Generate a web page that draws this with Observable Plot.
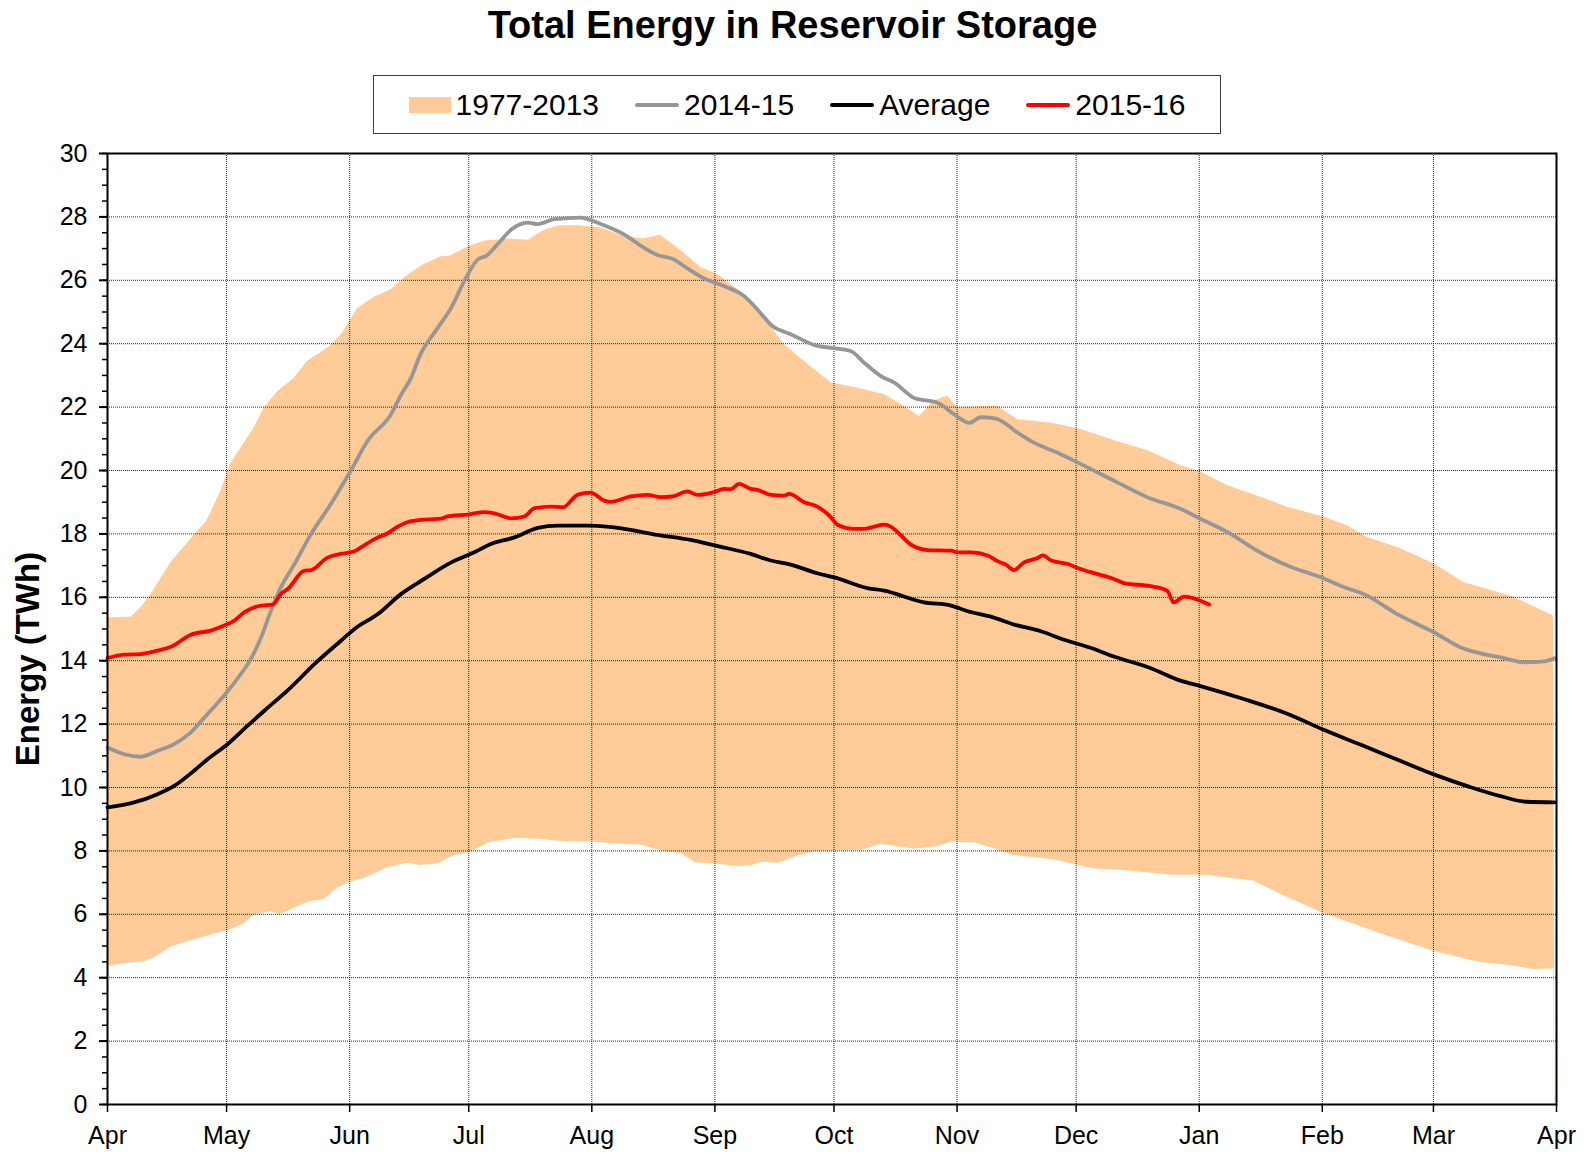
<!DOCTYPE html>
<html>
<head>
<meta charset="utf-8">
<script src="https://cdn.jsdelivr.net/npm/d3@7"></script>
<script src="https://cdn.jsdelivr.net/npm/@observablehq/plot@0.6"></script>
<style>
  body { margin: 0; background: #fff; font-family: "Liberation Sans", Arial, sans-serif; color: #000; }
  #header { position: relative; width: 1585px; height: 136px; }
  #title { position: absolute; top: 0; left: 0; width: 1585px; text-align: center; font-weight: bold; font-size: 38px; line-height: 50px; }
  #legend { position: absolute; left: 373px; top: 75px; width: 846px; height: 57px; border: 1px solid #404040;
            display: flex; align-items: center; justify-content: center; gap: 36px; font-size: 30px; }
  .item { display: flex; align-items: center; gap: 5px; }
  .rect { width: 42px; height: 16px; }
  .ln { width: 44px; height: 4px; border-radius: 2px; }
  #chart svg { display: block; }
</style>
</head>
<body>
<div id="header">
  <div id="title">Total Energy in Reservoir Storage</div>
  <div id="legend"></div>
</div>
<div id="chart"></div>
<script>
// Day offsets from 1 April; month labels
const monthStarts = [0, 30, 61, 91, 122, 153, 183, 214, 244, 275, 306, 334, 365];
const monthLabels = ["Apr", "May", "Jun", "Jul", "Aug", "Sep", "Oct", "Nov", "Dec", "Jan", "Feb", "Mar", "Apr"];
const yTicks = [0, 2, 4, 6, 8, 10, 12, 14, 16, 18, 20, 22, 24, 26, 28, 30];

// 1977-2013 range, upper edge [day, TWh]
const bandHigh = [[0,15.35],[6,15.38],[8.4,15.66],[11,16.1],[16,17.1],[22,17.98],[25,18.4],[28.6,19.35],[31,20.2],[33.6,20.7],[37,21.35],[39.5,21.98],[43,22.5],[47,22.9],[50.4,23.45],[56,23.9],[59,24.3],[63,25.1],[67,25.45],[71.4,25.7],[75,26.1],[79,26.45],[84,26.74],[86.5,26.77],[90.8,27.05],[95,27.24],[101,27.3],[106,27.26],[110,27.58],[114,27.72],[119,27.72],[124,27.66],[130,27.4],[135,27.3],[139.3,27.42],[145.2,26.87],[149.4,26.4],[153.6,26.19],[158.7,25.72],[163.7,25.14],[170.4,23.98],[175.5,23.45],[182.2,22.77],[188.9,22.6],[195.6,22.4],[200.7,22.03],[204.5,21.7],[208.3,22.19],[211.6,22.35],[214.1,21.98],[224.2,22.03],[229.3,21.6],[237.7,21.5],[245,21.3],[253.5,20.95],[261.9,20.63],[270.3,20.16],[275.4,19.95],[282.1,19.53],[290.5,19.16],[297.2,18.84],[306.4,18.53],[312.3,18.26],[317.4,17.89],[325.8,17.53],[334.2,17.05],[341.7,16.47],[354.3,16.0],[364.2,15.42],[364.6,0]];

// 1977-2013 range, lower edge [day, TWh]
const bandLow = [[0,4.35],[3.5,4.43],[9.3,4.5],[11.6,4.61],[16.2,4.98],[23.1,5.24],[27.8,5.4],[30.3,5.47],[34.7,5.72],[37,5.98],[41.1,6.08],[43.4,6.0],[46.3,6.14],[50.9,6.4],[54.4,6.45],[57.9,6.82],[61.1,7.0],[64.8,7.14],[70.6,7.47],[75.8,7.61],[78.7,7.54],[83.3,7.59],[86.8,7.82],[91.4,7.96],[96.1,8.26],[103,8.4],[108.8,8.37],[112.3,8.32],[115.7,8.29],[122.2,8.29],[127.3,8.22],[134.3,8.19],[138.9,8.01],[144.7,7.91],[148.1,7.63],[153.4,7.59],[158.6,7.51],[162.1,7.53],[165,7.64],[169,7.61],[173.6,7.82],[178.2,7.98],[183,8.0],[190.1,8.02],[194.9,8.21],[203.2,8.05],[209.1,8.13],[212.7,8.28],[218.6,8.25],[223.3,8.07],[228.1,7.86],[238.8,7.71],[244.3,7.55],[248.2,7.44],[256.5,7.37],[268.4,7.23],[276.7,7.23],[288.6,7.05],[296.9,6.55],[306.5,6.02],[313.5,5.71],[321.8,5.34],[334.6,4.81],[345.5,4.49],[352.6,4.39],[359.7,4.25],[364.3,4.28],[364.6,0]];

// 2014-15 [day, TWh]
const season1415 = [[0,11.26],[4.2,11.05],[8.4,10.97],[12.6,11.16],[16.8,11.37],[21,11.74],[25.2,12.32],[29.4,12.9],[33.6,13.58],[36.1,14.05],[38.7,14.74],[41.2,15.58],[43.7,16.32],[47.1,17.05],[51.3,18.0],[56.3,18.95],[61.3,20.0],[65.5,20.93],[71.4,21.77],[74,22.4],[76.5,22.93],[78.6,23.6],[83.2,24.5],[86.6,25.14],[89.9,25.98],[93.3,26.66],[95.4,26.77],[98.3,27.14],[101.7,27.6],[105.9,27.82],[108.4,27.77],[112.6,27.93],[119.3,27.98],[121.7,27.9],[124.4,27.77],[130.1,27.45],[135.1,27.03],[138.5,26.8],[142.7,26.66],[145.2,26.45],[150.3,26.06],[155.3,25.82],[160.4,25.5],[163.7,25.08],[167.5,24.56],[172.1,24.3],[178.8,23.93],[182.2,23.87],[187.2,23.77],[190.6,23.4],[194.8,22.98],[198.2,22.77],[203.2,22.29],[209.1,22.14],[213.3,21.77],[217.1,21.5],[220,21.68],[223.8,21.64],[229.3,21.19],[233.5,20.87],[239.3,20.56],[245.1,20.21],[253.5,19.68],[261.9,19.16],[270.3,18.79],[275.4,18.47],[282.9,18.0],[288.8,17.53],[297.2,17.0],[305.6,16.63],[311.5,16.32],[316.5,16.1],[324.9,15.47],[334.2,14.89],[340.9,14.42],[345.9,14.23],[351.8,14.08],[356.9,13.95],[361.9,13.98],[364.4,14.08]];

// Average [day, TWh]
const average = [[0,9.37],[6.7,9.53],[12.6,9.79],[16.8,10.05],[21.8,10.53],[25.2,10.89],[30.3,11.37],[35.3,11.95],[39.5,12.42],[46.2,13.16],[52.1,13.89],[58.8,14.63],[62.2,15.0],[68.1,15.47],[73.9,16.1],[79.8,16.58],[86.6,17.1],[92.4,17.42],[96.6,17.68],[102.5,17.89],[108.4,18.19],[113.4,18.26],[121.8,18.26],[130.1,18.16],[138.5,17.97],[146.9,17.81],[153.2,17.63],[162,17.37],[167.1,17.16],[172.1,17.03],[178.8,16.76],[183.1,16.63],[191.4,16.29],[195.6,16.21],[205.7,15.84],[212.5,15.74],[216.7,15.56],[222.5,15.39],[228.4,15.14],[235.1,14.93],[241,14.66],[247.8,14.4],[253.5,14.13],[262.5,13.78],[270.3,13.37],[275.3,13.2],[286,12.8],[298.1,12.28],[306.5,11.81],[315.9,11.34],[325.3,10.86],[334.6,10.39],[343.1,10.02],[351.4,9.71],[357.4,9.55],[364.5,9.53]];

// 2015-16 [day, TWh]
const season1516 = [[0,14.08],[4.2,14.19],[8.4,14.21],[12.6,14.32],[16,14.44],[21,14.82],[26,14.95],[29.4,15.11],[31.9,15.26],[34.5,15.53],[38.7,15.74],[41.6,15.77],[43.7,16.11],[45.4,16.26],[49.6,16.84],[51.3,16.86],[55.5,17.26],[58.8,17.37],[62.2,17.45],[63.9,17.58],[68.1,17.89],[70.6,18.02],[73.1,18.23],[76.5,18.4],[80.7,18.46],[84,18.48],[85.7,18.55],[90.8,18.61],[95,18.69],[97.5,18.65],[101.7,18.49],[105,18.55],[107.6,18.81],[111.8,18.86],[114.7,18.84],[118.5,19.24],[121.7,19.3],[125.1,19.05],[126.7,19.01],[131.8,19.18],[136,19.23],[139.3,19.16],[142.3,19.18],[146.1,19.34],[148.6,19.23],[152.8,19.32],[155.3,19.42],[157,19.41],[159.1,19.58],[162,19.42],[163.7,19.39],[167.1,19.23],[170.4,19.21],[171.7,19.26],[175.5,19.0],[178.8,18.86],[182.2,18.53],[183.9,18.29],[188.1,18.16],[190.6,18.16],[193.1,18.23],[195.6,18.29],[197.3,18.23],[199.9,17.95],[202.4,17.66],[206.6,17.49],[212.5,17.47],[214.1,17.42],[217.5,17.42],[221.7,17.32],[224.2,17.14],[226.3,17.03],[228.3,16.86],[230.9,17.1],[234.3,17.24],[235.6,17.32],[237.7,17.16],[241.9,17.05],[245.1,16.89],[253.5,16.58],[256,16.45],[262.7,16.35],[266.9,16.21],[268.6,15.84],[271.2,16.02],[277.5,15.77]];

const seriesNames = ["1977-2013", "2014-15", "Average", "2015-16"];
const seriesColors = ["#FFCC99", "#969696", "#000000", "#FF0000"];

// Legend
const legend = document.getElementById("legend");
seriesNames.forEach((name, i) => {
  const item = document.createElement("div");
  item.className = "item";
  const sw = document.createElement("div");
  sw.className = i === 0 ? "rect" : "ln";
  sw.style.background = seriesColors[i];
  const t = document.createElement("span");
  t.textContent = name;
  item.appendChild(sw);
  item.appendChild(t);
  legend.appendChild(item);
});

const labelByDay = new Map(monthStarts.map((d, i) => [d, monthLabels[i]]));
const gridStyle = {stroke: "#000", strokeOpacity: 0.85, strokeWidth: 1, strokeDasharray: "1,1"};
const X = d => d[0], Y = d => d[1];

const chart = Plot.plot({
  width: 1585,
  height: 1019,
  marginLeft: 107,
  marginRight: 29,
  marginTop: 17,
  marginBottom: 51,
  style: {fontFamily: "'Liberation Sans', Arial, sans-serif", fontSize: "25px", color: "#000", background: "#fff", overflow: "visible"},
  x: {domain: [0, 365], label: null},
  y: {domain: [0, 30], label: null},
  marks: [
    Plot.areaY(bandHigh, {x: X, y: Y, fill: seriesColors[0]}),
    Plot.areaY(bandLow, {x: X, y: Y, fill: "#fff"}),
    Plot.gridX(monthStarts.slice(1, -1), gridStyle),
    Plot.gridY(yTicks.slice(1, -1), gridStyle),
    Plot.line(season1415, {x: X, y: Y, stroke: seriesColors[1], strokeWidth: 3.8, curve: "monotone-x"}),
    Plot.line(average, {x: X, y: Y, stroke: seriesColors[2], strokeWidth: 3.8, curve: "monotone-x"}),
    Plot.line(season1516, {x: X, y: Y, stroke: seriesColors[3], strokeWidth: 3.8, curve: "monotone-x"}),
    Plot.axisY(d3.range(0, 30.01, 0.5), {tickSize: 5, tickFormat: () => "", strokeWidth: 1.5}),
    Plot.axisY(yTicks, {tickSize: 8, tickPadding: 12, strokeWidth: 2, fontSize: 25, tickFormat: d => String(d)}),
    Plot.axisX(monthStarts, {tickSize: 8, tickPadding: 14, strokeWidth: 1.5, fontSize: 25, tickFormat: d => labelByDay.get(d)}),
    Plot.frame({stroke: "#000", strokeWidth: 2}),
    Plot.text(["Energy (TWh)"], {text: d => d, frameAnchor: "left", dx: -79, dy: 30, rotate: -90,
      fontSize: 33, fontWeight: "bold", textAnchor: "middle", lineAnchor: "middle", fill: "#000"})
  ]
});
document.getElementById("chart").appendChild(chart);
</script>
</body>
</html>
